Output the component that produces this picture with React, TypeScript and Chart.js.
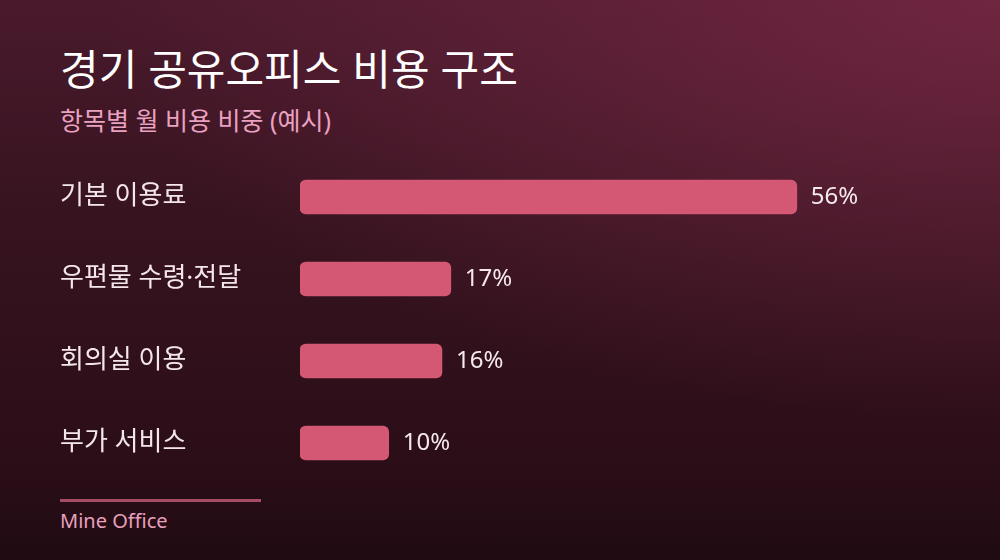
import { useEffect, useRef } from "react";
import { Chart, registerables } from "chart.js";

Chart.register(...registerables);

const categories = ["기본 이용료", "우편물 수령·전달", "회의실 이용", "부가 서비스"];
const shares = [56, 17, 16, 10];

const FONT = "'Noto Sans', 'Noto Sans CJK KR', sans-serif";

const valueLabels = {
  id: "valueLabels",
  afterDatasetsDraw(chart: Chart) {
    const ctx = chart.ctx;
    const meta = chart.getDatasetMeta(0);
    ctx.save();
    ctx.font = `24px ${FONT}`;
    ctx.fillStyle = "#f6e9ee";
    ctx.textAlign = "left";
    ctx.textBaseline = "middle";
    meta.data.forEach((bar: any, i: number) => {
      ctx.fillText(`${shares[i]}%`, bar.x + 14, bar.y);
    });
    ctx.restore();
  },
};

export default function App() {
  const chartRef = useRef<HTMLCanvasElement>(null);
  const chartInstance = useRef<Chart | null>(null);

  useEffect(() => {
    if (!chartRef.current) return;
    if (chartInstance.current) chartInstance.current.destroy();
    const ctx = chartRef.current.getContext("2d");
    if (!ctx) return;

    chartInstance.current = new Chart(ctx, {
      type: "bar",
      data: {
        labels: categories,
        datasets: [
          {
            data: shares,
            backgroundColor: "#d45873",
            borderRadius: 6,
            borderSkipped: false,
            barThickness: 34,
          },
        ],
      },
      options: {
        indexAxis: "y",
        responsive: true,
        maintainAspectRatio: false,
        animation: false,
        layout: { padding: { left: 60, right: 79, top: 0, bottom: 0 } },
        plugins: {
          legend: { display: false },
          tooltip: { enabled: false },
        },
        scales: {
          x: {
            display: false,
            min: 0,
            max: 70,
          },
          y: {
            grid: { display: false },
            border: { display: false },
            afterFit: (scale: any) => {
              scale.width = 240;
              scale.paddingTop = 0;
              scale.paddingBottom = 0;
            },
            ticks: {
              crossAlign: "far",
              color: "#f4e6eb",
              font: { family: FONT, size: 26 },
            },
          },
        },
      },
      plugins: [valueLabels],
    });

    return () => {
      if (chartInstance.current) {
        chartInstance.current.destroy();
        chartInstance.current = null;
      }
    };
  }, []);

  return (
    <div
      style={{
        position: "fixed",
        left: 0,
        top: 0,
        width: 1000,
        height: 560,
        overflow: "hidden",
        fontFamily: FONT,
        background:
          "radial-gradient(ellipse 900px 420px at 100% 0%, rgba(118,40,68,0.85) 0%, rgba(118,40,68,0) 100%), linear-gradient(180deg, #4a1a2c 0%, #36131f 40%, #2c0e18 80%, #200b13 100%)",
      }}
    >
      <div
        style={{
          position: "absolute",
          left: 60,
          top: 44,
          fontSize: 42,
          lineHeight: "50px",
          color: "#ffffff",
        }}
      >
        경기 공유오피스 비용 구조
      </div>
      <div
        style={{
          position: "absolute",
          left: 60,
          top: 105,
          fontSize: 25,
          lineHeight: "30px",
          color: "#eaa2c1",
        }}
      >
        항목별 월 비용 비중 (예시)
      </div>
      <div style={{ position: "absolute", left: 0, top: 156, width: 1000, height: 328 }}>
        <canvas ref={chartRef}></canvas>
      </div>
      <div
        style={{
          position: "absolute",
          left: 60,
          top: 499,
          width: 201,
          height: 3,
          background: "#a84c66",
        }}
      />
      <div
        style={{
          position: "absolute",
          left: 60,
          top: 508,
          fontSize: 20,
          lineHeight: "26px",
          color: "#e8a0bc",
        }}
      >
        Mine Office
      </div>
    </div>
  );
}
